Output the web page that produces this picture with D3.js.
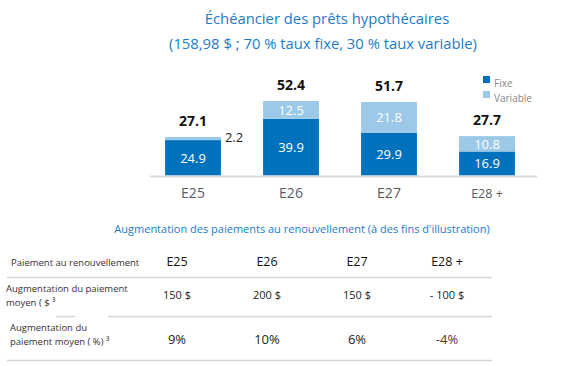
<!DOCTYPE html>
<html><head><meta charset="utf-8">
<script src="https://cdn.jsdelivr.net/npm/d3@7"></script>
<style>body{margin:0;background:#fff;} svg{display:block;font-family:"Open Sans",sans-serif;}</style>
</head><body>
<script>
const categories = ["E25", "E26", "E27", "E28 +"];
const fixe = [24.9, 39.9, 29.9, 16.9];
const variable = [2.2, 12.5, 21.8, 10.8];
const totals = [27.1, 52.4, 51.7, 27.7];
const seriesNames = ["Fixe", "Variable"];
const rowLabels = [["Paiement au renouvellement"], ["Augmentation du paiement", "moyen ( $ ³"], ["Augmentation du", "paiement moyen ( %) ³"]];
const paymentIncrease = ["150 $", "200 $", "150 $", "- 100 $"];
const pctIncrease = ["9%", "10%", "6%", "-4%"];

const W = 576, H = 366;
const svg = d3.select("body").append("svg").attr("width", W).attr("height", H);
const blue = "#0071bd", light = "#9cc9e7", titleBlue = "#1b7bc8";

// Title
svg.append("text").attr("x", 327).attr("y", 24).attr("text-anchor", "middle")
  .attr("fill", titleBlue).attr("font-size", 14.8).text("Échéancier des prêts hypothécaires");
svg.append("text").attr("x", 323).attr("y", 48.5).attr("text-anchor", "middle")
  .attr("fill", titleBlue).attr("font-size", 14.8).text("(158,98 $ ; 70 % taux fixe, 30 % taux variable)");

const x = d3.scaleBand().domain(categories).range([144, 536]).paddingInner(0.43).paddingOuter(0.215);
const y = d3.scaleLinear().domain([0, 52.4]).range([175.5, 101]);

// bars
const g = svg.append("g");
categories.forEach((c, i) => {
  g.append("rect").attr("x", x(c)).attr("width", x.bandwidth())
    .attr("y", y(fixe[i])).attr("height", y(0) - y(fixe[i])).attr("fill", blue);
  g.append("rect").attr("x", x(c)).attr("width", x.bandwidth())
    .attr("y", y(fixe[i] + variable[i])).attr("height", y(fixe[i]) - y(fixe[i] + variable[i])).attr("fill", light);
  const cx = x(c) + x.bandwidth() / 2;
  g.append("text").attr("x", cx).attr("y", (y(0) + y(fixe[i])) / 2 + 5).attr("text-anchor", "middle")
    .attr("fill", "#fff").attr("font-size", 13).text(fixe[i].toFixed(1));
  if (variable[i] > 5) {
    g.append("text").attr("x", cx).attr("y", (y(fixe[i]) + y(fixe[i] + variable[i])) / 2 + 5).attr("text-anchor", "middle")
      .attr("fill", "#fff").attr("font-size", 13).text(variable[i].toFixed(1));
  } else {
    g.append("text").attr("x", x(c) + x.bandwidth() + 4).attr("y", y(fixe[i] + variable[i]) + 5)
      .attr("fill", "#222").attr("font-size", 13).text(variable[i].toFixed(1));
  }
  g.append("text").attr("x", cx).attr("y", y(totals[i]) - 11).attr("text-anchor", "middle")
    .attr("fill", "#111").attr("font-size", 14).attr("font-weight", "bold").text(totals[i].toFixed(1));
  g.append("text").attr("x", cx).attr("y", 198).attr("text-anchor", "middle")
    .attr("fill", i === 2 ? "#5e5454" : "#5a5a66").attr("font-size", i === 3 ? 12.5 : 14).text(c);
});
// axis line
g.append("line").attr("x1", 150).attr("x2", x.range()[1] + 1).attr("y1", y(0) + 1).attr("y2", y(0) + 1)
  .attr("stroke", "#dcdcdc").attr("stroke-width", 2);

// legend
const lg = svg.append("g");
[blue, light].forEach((col, i) => {
  lg.append("rect").attr("x", 483).attr("y", 76 + i * 15).attr("width", 7).attr("height", 7).attr("fill", col);
  lg.append("text").attr("x", 494).attr("y", 87 + i * 15).attr("fill", "#888").attr("font-size", 10).text(seriesNames[i]);
});

// subtitle
svg.append("text").attr("x", 302).attr("y", 233).attr("text-anchor", "middle")
  .attr("fill", titleBlue).attr("font-size", 11).text("Augmentation des paiements au renouvellement (à des fins d'illustration)");

// table
const tx = d3.scalePoint().domain(categories).range([177, 447]);
const t = svg.append("g");
const lf = 9.5;
t.append("text").attr("x", 11).attr("y", 266).attr("fill", "#3a3030").attr("font-size", lf).text(rowLabels[0][0]);
rowLabels[1].forEach((s, k) => t.append("text").attr("x", 6).attr("y", 292 + k * 14).attr("fill", "#3a3030").attr("font-size", lf).text(s));
rowLabels[2].forEach((s, k) => t.append("text").attr("x", 10).attr("y", 331 + k * 14).attr("fill", "#3a3030").attr("font-size", lf).text(s));
categories.forEach((c, i) => {
  t.append("text").attr("x", tx(c)).attr("y", 266).attr("text-anchor", "middle").attr("fill", "#111").attr("font-size", 12.5).text(c);
  t.append("text").attr("x", tx(c)).attr("y", 299).attr("text-anchor", "middle").attr("fill", "#222").attr("font-size", 11).text(paymentIncrease[i]);
  t.append("text").attr("x", tx(c)).attr("y", 344).attr("text-anchor", "middle").attr("fill", i === 3 ? "#5a2e2e" : "#222").attr("font-size", 13).text(pctIncrease[i]);
});
const lc = "#d6d6d6";
t.append("line").attr("x1", 7).attr("x2", 492).attr("y1", 277.5).attr("y2", 277.5).attr("stroke", lc).attr("stroke-width", 1.5);
t.append("line").attr("x1", 56).attr("x2", 75).attr("y1", 316.5).attr("y2", 316.5).attr("stroke", lc).attr("stroke-width", 1.5);
t.append("line").attr("x1", 108).attr("x2", 492).attr("y1", 316.5).attr("y2", 316.5).attr("stroke", lc).attr("stroke-width", 1.5);
t.append("line").attr("x1", 7).attr("x2", 492).attr("y1", 360.5).attr("y2", 360.5).attr("stroke", lc).attr("stroke-width", 1.5);
</script>
</body></html>
